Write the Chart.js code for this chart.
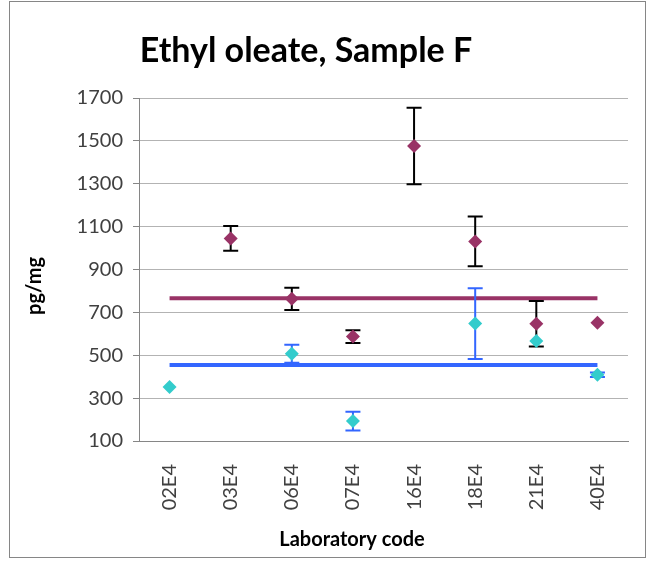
<!DOCTYPE html>
<html><head><meta charset="utf-8">
<script src="https://cdn.jsdelivr.net/npm/chart.js@4.4.0/dist/chart.umd.min.js"></script>
<style>html,body{margin:0;padding:0;background:#fff}#wrap{width:648px;height:561px;position:relative}</style>
</head><body><div id="wrap"><canvas id="c" width="648" height="561"></canvas></div>
<script>
const labCodes = ['02E4','03E4','06E4','07E4','16E4','18E4','21E4','40E4'];
const seriesA = [null,1045,763,587,1476,1031,647,652];
const errA    = [null,58,52,30,178,116,106,null];
const seriesB = [352,null,507,193,null,648,566,409];
const errB    = [null,null,42,44,null,165,null,10];
const meanA = 766;
const meanB = 455;
const yTicks = [100,300,500,700,900,1100,1300,1500,1700];
const chartTitle = 'Ethyl oleate, Sample F';
const xTitle = 'Laboratory code';
const yTitle = 'pg/mg';

const FONT = 'Lato';

const framePlugin = {
  id:'frame',
  beforeDraw(chart){
    const ctx = chart.ctx;
    ctx.save();
    ctx.fillStyle = '#fff';
    ctx.fillRect(0,0,chart.width,chart.height);
    ctx.strokeStyle = '#868686';
    ctx.lineWidth = 1;
    ctx.strokeRect(9.5,1.5,636,556);
    ctx.restore();
  }
};

const errorBarPlugin = {
  id:'errbars',
  beforeDatasetDraw(chart, args){
    const ds = chart.data.datasets[args.index];
    if(!ds.errors) return;
    const ys = chart.scales.y, ctx = chart.ctx;
    ctx.save();
    ctx.strokeStyle = ds.errorColor;
    ctx.lineWidth = 2;
    args.meta.data.forEach((pt,i)=>{
      const v = ds.data[i], e = ds.errors[i];
      if(v==null || e==null) return;
      const x = pt.x, yt = ys.getPixelForValue(v+e), yb = ys.getPixelForValue(v-e);
      ctx.beginPath();
      ctx.moveTo(x,yt); ctx.lineTo(x,yb);
      ctx.moveTo(x-7.5,yt); ctx.lineTo(x+7.5,yt);
      ctx.moveTo(x-7.5,yb); ctx.lineTo(x+7.5,yb);
      ctx.stroke();
    });
    ctx.restore();
  }
};

const titlesPlugin = {
  id:'titles',
  afterDraw(chart){
    const ctx = chart.ctx;
    ctx.save();
    ctx.fillStyle = '#000';
    ctx.textAlign = 'center';
    ctx.textBaseline = 'alphabetic';
    ctx.font = 'bold 34px ' + FONT;
    ctx.fillText(chartTitle, 306, 62);
    ctx.textBaseline = 'middle';
    ctx.font = 'bold 20px ' + FONT;
    ctx.fillText(xTitle, 352, 540);
    ctx.translate(35, 286);
    ctx.rotate(-Math.PI/2);
    ctx.fillText(yTitle, 0, 0);
    ctx.restore();
  }
};

new Chart(document.getElementById('c'), {
  type:'line',
  data:{
    labels: labCodes,
    datasets:[
      {type:'line', data: labCodes.map(()=>meanA), borderColor:'#993366', borderWidth:4, pointRadius:0, order:3},
      {type:'line', data: labCodes.map(()=>meanB), borderColor:'#3366FF', borderWidth:4, pointRadius:0, order:2},
      {data: seriesA, errors: errA, errorColor:'#000000', showLine:false, pointStyle:'rectRot', pointRadius:7, pointHoverRadius:7,
       pointBorderWidth:0, pointBackgroundColor:'#993366', pointBorderColor:'#993366', order:1},
      {data: seriesB, errors: errB, errorColor:'#3366FF', showLine:false, pointStyle:'rectRot', pointRadius:7, pointHoverRadius:7,
       pointBorderWidth:0, pointBackgroundColor:'#33CCCC', pointBorderColor:'#33CCCC', order:0}
    ]
  },
  options:{
    responsive:false,
    animation:false,
    devicePixelRatio:1,
    layout:{padding:{left:0,right:20,top:98,bottom:0}},
    plugins:{
      legend:{display:false},
      tooltip:{enabled:false},
      title:{display:false}
    },
    scales:{
      x:{
        offset:true,
        grid:{display:false},
        border:{display:true,color:'#868686'},
        ticks:{color:'#404040', font:{family:FONT,size:20}, minRotation:90, maxRotation:90, padding:15},
        afterFit(s){ s.height = 120; }
      },
      y:{
        min:100, max:1700,
        afterBuildTicks(s){ s.ticks = yTicks.map(v=>({value:v})); },
        grid:{color:'#b3b3b3', tickLength:6, tickColor:'#868686'},
        border:{display:true,color:'#868686'},
        ticks:{color:'#404040', font:{family:FONT,size:20}, padding:10, callback:(v)=>String(v)},
        afterFit(s){ s.width = 139; }
      }
    }
  },
  plugins:[framePlugin, errorBarPlugin, titlesPlugin]
});
</script>
</body></html>
